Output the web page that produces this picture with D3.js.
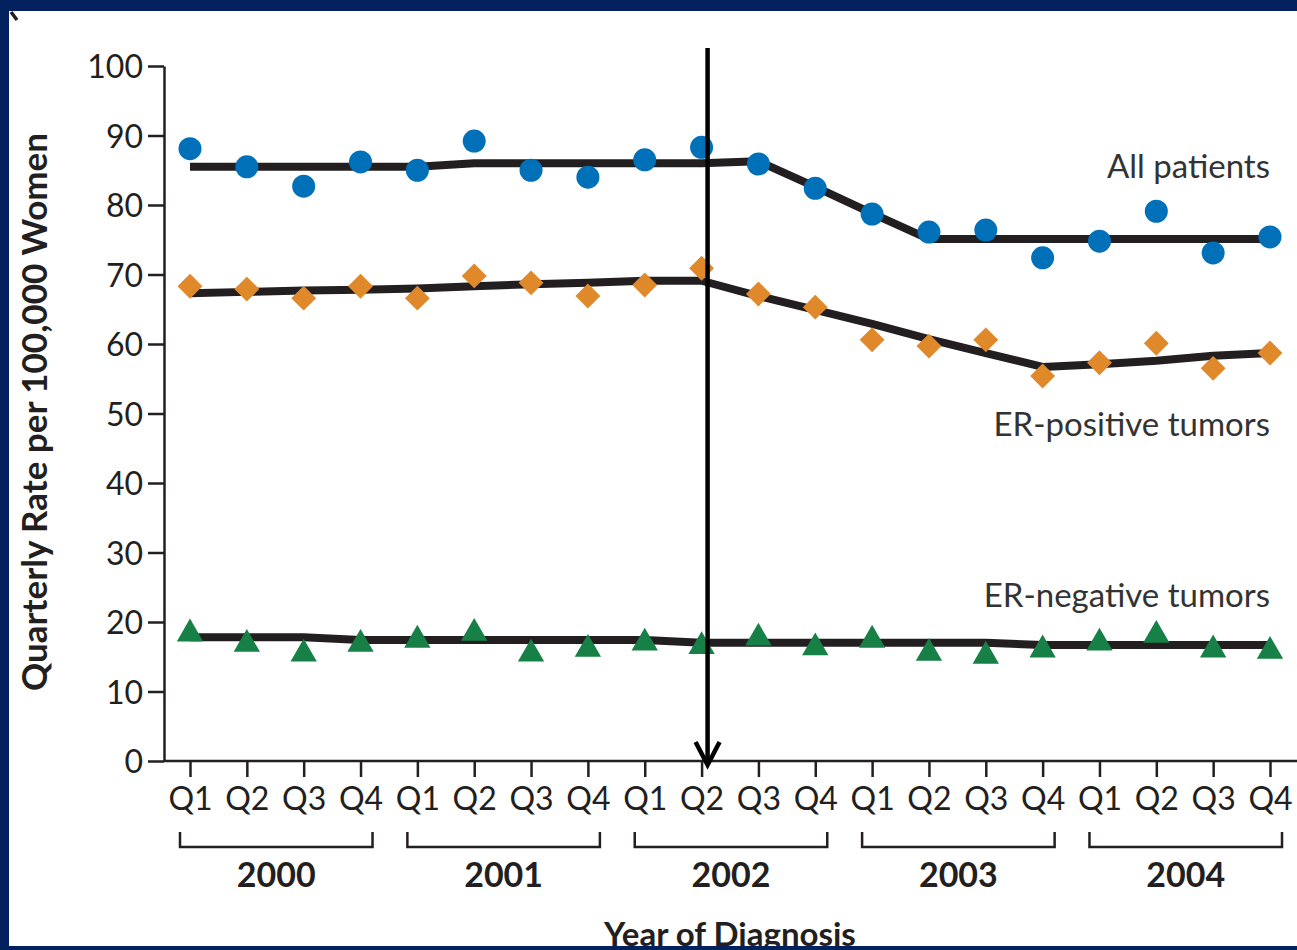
<!DOCTYPE html>
<html>
<head>
<meta charset="utf-8">
<script src="https://cdn.jsdelivr.net/npm/d3@7"></script>
<style>
  html, body { margin: 0; padding: 0; background: #03205f; }
  svg { display: block; }
</style>
</head>
<body>
<svg id="chart" width="1297" height="950"></svg>
<script>
// Quarterly breast-cancer incidence, 2000-2004
const years = ["2000", "2001", "2002", "2003", "2004"];
const quarters = ["Q1", "Q2", "Q3", "Q4"];
const yTicks = [0, 10, 20, 30, 40, 50, 60, 70, 80, 90, 100];

// observed quarterly rates per 100,000 women
const allPatients = [88.1, 85.5, 82.7, 86.2, 85.0, 89.2, 85.0, 84.0, 86.5, 88.3,
                     85.9, 82.4, 78.7, 76.1, 76.4, 72.4, 74.8, 79.1, 73.1, 75.4];
const erPositive  = [68.3, 67.9, 66.6, 68.3, 66.6, 69.8, 68.8, 66.9, 68.5, 70.9,
                     67.2, 65.3, 60.6, 59.7, 60.6, 55.4, 57.3, 60.1, 56.5, 58.7];
const erNegative  = [18.3, 16.8, 15.4, 16.8, 17.4, 18.4, 15.4, 16.1, 17.0, 16.5,
                     17.7, 16.3, 17.4, 15.5, 15.1, 16.0, 17.0, 18.1, 16.0, 15.8];

// fitted trend lines
const allTrend = [85.5, 85.5, 85.5, 85.5, 85.5, 86.0, 86.0, 86.0, 86.0, 86.0,
                  86.3, 82.6, 78.8, 75.1, 75.1, 75.1, 75.1, 75.1, 75.1, 75.1];
const erPosTrend = [67.3, 67.5, 67.7, 67.8, 68.0, 68.3, 68.6, 68.8, 69.1, 69.1,
                    66.9, 64.9, 62.9, 60.7, 58.7, 56.7, 57.1, 57.6, 58.3, 58.7];
const erNegTrend = [17.8, 17.8, 17.8, 17.4, 17.4, 17.4, 17.4, 17.4, 17.4, 17.0,
                    17.0, 17.0, 17.0, 17.0, 17.0, 16.7, 16.7, 16.7, 16.7, 16.7];

const seriesLabels = ["All patients", "ER-positive tumors", "ER-negative tumors"];
const yTitle = "Quarterly Rate per 100,000 Women";
const xTitle = "Year of Diagnosis";
const markYear = "2002", markQuarter = "Q2";

const ink = "#231f20";
const font = "Lato, 'Open Sans', sans-serif";

const svg = d3.select("#chart");

// white panel inside the navy frame
svg.append("rect").attr("x", 9).attr("y", 11).attr("width", 1288).attr("height", 935).attr("fill", "#ffffff");

const keys = years.flatMap(y => quarters.map(q => y + "-" + q));
const x = d3.scalePoint().domain(keys).range([190, 1270]);
const y = d3.scaleLinear().domain([0, 100]).range([761, 66]);

const g = svg.append("g");

// y axis
const yAxis = g.append("g").attr("transform", "translate(164,0)")
  .call(d3.axisLeft(y).tickValues(yTicks).tickSize(16).tickSizeOuter(0).tickPadding(5));
yAxis.attr("font-family", font).attr("font-size", 32);
yAxis.selectAll("path, line").attr("stroke", ink).attr("stroke-width", 2.5);
yAxis.selectAll("text").attr("fill", ink).attr("dy", "0.36em");

// x axis baseline + quarter ticks
g.append("line").attr("x1", 164).attr("x2", 1297).attr("y1", y(0)).attr("y2", y(0))
  .attr("stroke", ink).attr("stroke-width", 2.5);
const xAxis = g.append("g").attr("transform", `translate(0,${y(0)})`)
  .call(d3.axisBottom(x).tickSize(16).tickPadding(10).tickFormat(k => k.split("-")[1]));
xAxis.select(".domain").remove();
xAxis.attr("font-family", font).attr("font-size", 32);
xAxis.selectAll("line").attr("stroke", ink).attr("stroke-width", 2.5);
xAxis.selectAll("text").attr("fill", ink);

// year brackets
const yearG = g.append("g");
years.forEach(yr => {
  const x0 = x(yr + "-Q1") - 10, x1 = x(yr + "-Q4") + 12;
  yearG.append("path")
    .attr("d", `M${x0},832V847H${x1}V832`)
    .attr("fill", "none").attr("stroke", ink).attr("stroke-width", 2.5);
  yearG.append("text").attr("x", (x0 + x1) / 2).attr("y", 887)
    .attr("text-anchor", "middle").attr("font-family", font).attr("font-weight", 700)
    .attr("font-size", 34).attr("fill", ink).text(yr);
});

// axis titles
g.append("text").attr("transform", "translate(47,412) rotate(-90)")
  .attr("text-anchor", "middle").attr("font-family", font).attr("font-weight", 700)
  .attr("font-size", 35).attr("fill", ink).text(yTitle);
g.append("text").attr("x", 730).attr("y", 946)
  .attr("text-anchor", "middle").attr("font-family", font).attr("font-weight", 700)
  .attr("font-size", 33).attr("fill", ink).text(xTitle);

// trend lines
const line = d3.line().x((d, i) => x(keys[i])).y(d => y(d));
[allTrend, erPosTrend, erNegTrend].forEach(t => {
  g.append("path").datum(t).attr("d", line)
    .attr("fill", "none").attr("stroke", ink).attr("stroke-width", 8).attr("stroke-linejoin", "round");
});

// observed points
g.append("g").selectAll("circle").data(allPatients).join("circle")
  .attr("cx", (d, i) => x(keys[i])).attr("cy", d => y(d)).attr("r", 11.5)
  .attr("fill", "#0071b9");
g.append("g").selectAll("path").data(erPositive).join("path")
  .attr("d", d3.symbol(d3.symbolSquare, 310))
  .attr("transform", (d, i) => `translate(${x(keys[i])},${y(d)}) rotate(45)`)
  .attr("fill", "#e0892b");
g.append("g").selectAll("path").data(erNegative).join("path")
  .attr("d", d3.symbol(d3.symbolTriangle, 300))
  .attr("transform", (d, i) => `translate(${x(keys[i])},${y(d)})`)
  .attr("fill", "#178046");

// series labels, placed relative to the end of each trend line
const labelOffset = [8.8, -11.9, 5.5];
const trendEnds = [allTrend, erPosTrend, erNegTrend].map(t => t[t.length - 1]);
seriesLabels.forEach((t, i) => {
  g.append("text").attr("x", x(keys[19])).attr("y", y(trendEnds[i] + labelOffset[i]))
    .attr("text-anchor", "end").attr("font-family", font).attr("font-size", 33)
    .attr("fill", "#333333").text(t);
});

// arrow marking 2002 Q2
const ax = x(markYear + "-" + markQuarter) + 6;
g.append("line").attr("x1", ax).attr("x2", ax).attr("y1", 48).attr("y2", 764)
  .attr("stroke", "#000").attr("stroke-width", 4.5);
g.append("path").attr("d", `M${ax - 12},742L${ax},765L${ax + 12},742`)
  .attr("fill", "none").attr("stroke", "#000").attr("stroke-width", 4.5);

// small stroke at top-left corner
g.append("path").attr("d", "M11,12L17,20").attr("stroke", ink).attr("stroke-width", 3.5);

// navy frame drawn last so it clips the panel edges
svg.append("path")
  .attr("d", "M0,0H1297V11H9V946H1297V950H0Z")
  .attr("fill", "#03205f");
</script>
</body>
</html>
